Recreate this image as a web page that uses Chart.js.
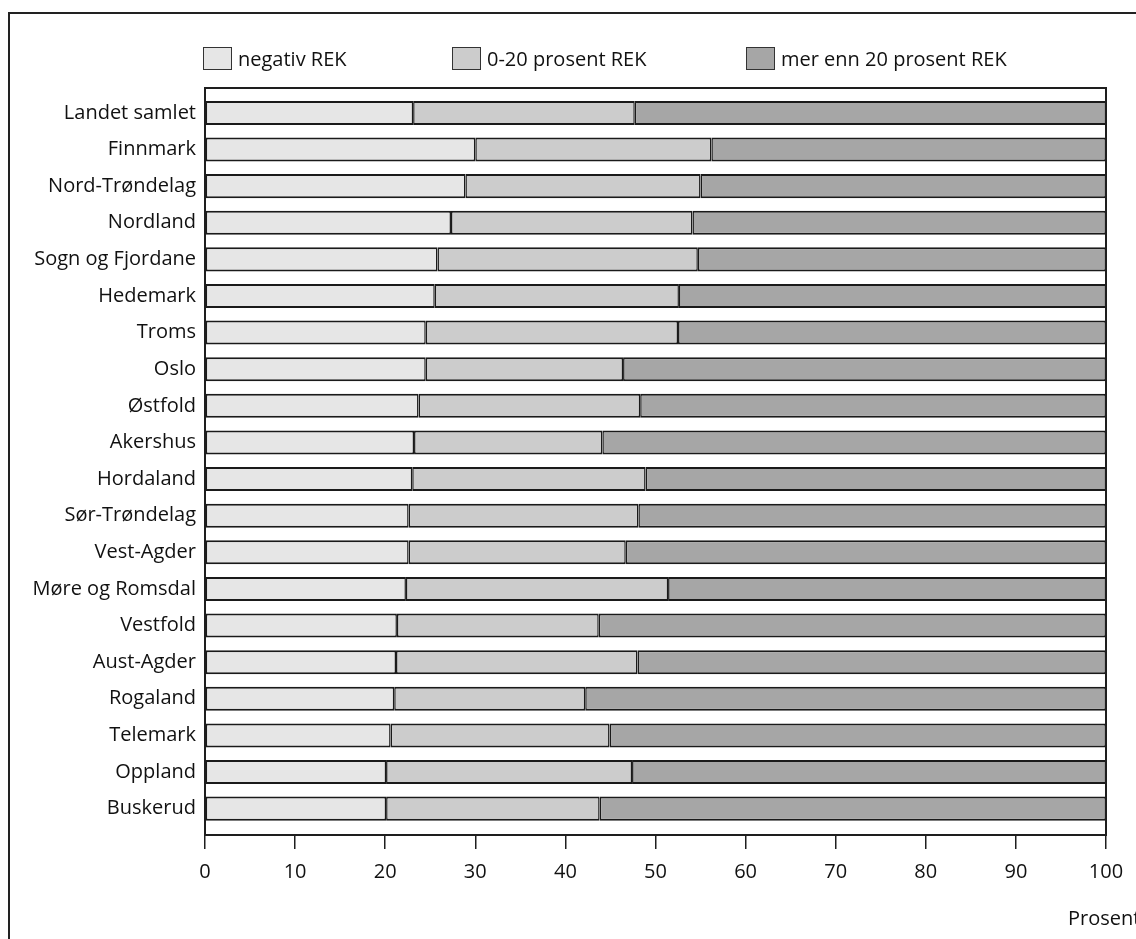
<!DOCTYPE html>
<html>
<head>
<meta charset="utf-8">
<script src="https://cdn.jsdelivr.net/npm/chart.js@4"></script>
<style>
  body { margin: 0; background: #fff; overflow: hidden; font-family: "Open Sans", sans-serif; }
  #wrap { position: relative; width: 1136px; height: 939px; }
  #frame { position: absolute; left: 8px; top: 12px; width: 1200px; height: 1000px; border: 2px solid #222; }
  #valueChart { position: absolute; left: 0; top: 0; }
  .leg { position: absolute; top: 45px; display: flex; align-items: center; font-size: 20px; color: #111; white-space: nowrap; }
  .leg span.box { display: inline-block; width: 27px; height: 21px; border: 1.5px solid #333; margin-right: 6px; }
  #unit { position: absolute; left: 1068px; top: 904px; font-size: 20px; color: #111; }
</style>
</head>
<body>
<div id="wrap">
  <div id="frame"></div>
  <canvas id="valueChart" width="1136" height="939"></canvas>
  <div id="legend"></div>
  <div id="unit">Prosent</div>
</div>
<script>
const fylker = ['Landet samlet', 'Finnmark', 'Nord-Trøndelag', 'Nordland', 'Sogn og Fjordane', 'Hedemark', 'Troms', 'Oslo', 'Østfold', 'Akershus', 'Hordaland', 'Sør-Trøndelag', 'Vest-Agder', 'Møre og Romsdal', 'Vestfold', 'Aust-Agder', 'Rogaland', 'Telemark', 'Oppland', 'Buskerud'];
const negativ = [23.1, 30.0, 28.9, 27.3, 25.8, 25.5, 24.5, 24.5, 23.7, 23.2, 23.0, 22.6, 22.6, 22.3, 21.3, 21.2, 21.0, 20.6, 20.1, 20.1];
const nullTilTjue = [24.6, 26.2, 26.1, 26.8, 28.9, 27.1, 28.0, 21.9, 24.6, 20.9, 25.9, 25.5, 24.1, 29.1, 22.4, 26.8, 21.2, 24.3, 27.3, 23.7];
const overTjue = [52.3, 43.8, 45.0, 45.9, 45.3, 47.4, 47.5, 53.6, 51.7, 55.9, 51.1, 51.9, 53.3, 48.6, 56.3, 52.0, 57.8, 55.1, 52.6, 56.2];
const xTicks = [0, 10, 20, 30, 40, 50, 60, 70, 80, 90, 100];

const seriesNames = ['negativ REK', '0-20 prosent REK', 'mer enn 20 prosent REK'];
const seriesColors = ['#e6e6e6', '#cccccc', '#a6a6a6'];
const legendLeft = [203, 452, 746];

const font = { family: '"Open Sans", sans-serif', size: 20 };
Chart.defaults.color = '#111';

// bars sit on a linear index axis so the plot box can have a little air above and below
function toPoints(values) {
    return values.map((v, i) => ({ x: v, y: i }));
}

const datasets = [negativ, nullTilTjue, overTjue].map((vals, k) => ({
    label: seriesNames[k],
    data: toPoints(vals),
    backgroundColor: seriesColors[k],
    borderColor: '#1a1a1a',
    borderWidth: { top: 2, bottom: 2, left: 1.5, right: 1.5 },
    borderSkipped: false,
    stack: 'rek',
    categoryPercentage: 0.8,
    barPercentage: 0.82
}));

const boxPlugin = {
    id: 'plotBox',
    afterDraw(chart) {
        const a = chart.chartArea;
        const c = chart.ctx;
        c.save();
        c.strokeStyle = '#1e1e1e';
        c.lineWidth = 2;
        c.strokeRect(a.left, a.top, a.right - a.left, a.bottom - a.top);
        c.restore();
    }
};

new Chart(document.getElementById('valueChart').getContext('2d'), {
    type: 'bar',
    data: { datasets: datasets },
    plugins: [boxPlugin],
    options: {
        indexAxis: 'y',
        responsive: false,
        animation: false,
        layout: { padding: { top: 88, right: 30, left: 0, bottom: 0 } },
        plugins: { legend: { display: false }, tooltip: { enabled: false } },
        scales: {
            x: {
                type: 'linear',
                stacked: true,
                bounds: 'data',
                min: 0,
                max: 100,
                afterFit: s => { s.height = 104; },
                afterBuildTicks: s => { s.ticks = xTicks.map(v => ({ value: v })); },
                grid: { drawOnChartArea: false, drawTicks: true, tickLength: 14, color: '#1e1e1e', lineWidth: 1.5 },
                border: { display: true, color: '#1e1e1e', width: 2 },
                ticks: { font: font, padding: 11, maxRotation: 0 }
            },
            y: {
                type: 'linear',
                stacked: true,
                bounds: 'data',
                offset: false,
                reverse: true,
                min: -0.68,
                max: fylker.length - 0.28,
                afterFit: s => { s.width = 205; },
                afterBuildTicks: s => { s.ticks = fylker.map((_, i) => ({ value: i })); },
                grid: { offset: false, drawOnChartArea: false, drawTicks: false },
                border: { display: true, color: '#1e1e1e', width: 2 },
                ticks: { font: font, padding: 9, callback: v => fylker[v] }
            }
        }
    }
});

// legend built from the same names and colours
const legend = document.getElementById('legend');
seriesNames.forEach((name, k) => {
    const item = document.createElement('div');
    item.className = 'leg';
    item.style.left = legendLeft[k] + 'px';
    item.innerHTML = '<span class="box" style="background:' + seriesColors[k] + '"></span>' + name;
    legend.appendChild(item);
});
</script>
</body>
</html>
